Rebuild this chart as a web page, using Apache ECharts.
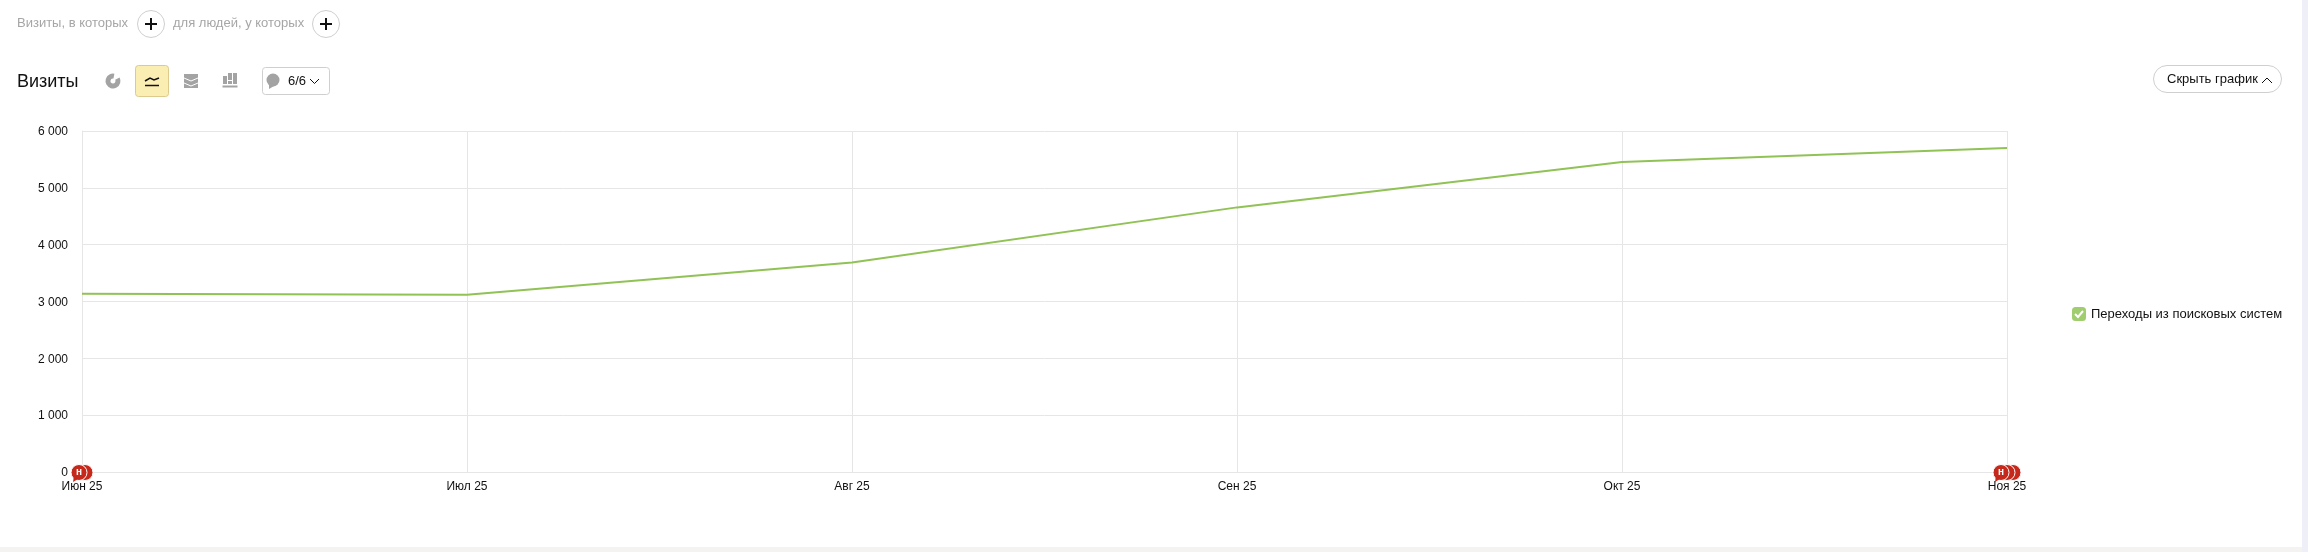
<!DOCTYPE html>
<html>
<head>
<meta charset="utf-8">
<title>Визиты</title>
<script src="https://cdn.jsdelivr.net/npm/echarts@6/dist/echarts.min.js"></script>
<style>
  html, body { margin: 0; padding: 0; background: #fff; }
  #chart { width: 2308px; height: 552px; }
</style>
</head>
<body>
<div id="chart"></div>
<script>
  const months = ['Июн 25', 'Июл 25', 'Авг 25', 'Сен 25', 'Окт 25', 'Ноя 25']
  const seriesName = 'Переходы из поисковых систем'
  const visits = [3137, 3120, 3688, 4656, 5454, 5700]
  // сколько заметок стоит на оси в каждом месяце
  const noteCounts = [2, 0, 0, 0, 0, 3]

  const font = '"Liberation Sans", Arial, sans-serif'
  const gridColor = '#e6e6e6'
  const iconGray = '#a3a3a3'

  function label(x, y, text, size, color) {
    return {
      type: 'text', x: x, y: y, silent: true,
      style: { text: text, font: size + 'px ' + font, fill: color, textVerticalAlign: 'middle' }
    }
  }
  function box(x, y, w, h, r, fill, stroke) {
    return {
      type: 'rect', silent: true,
      shape: { x: x, y: y, width: w, height: h, r: r },
      style: { fill: fill, stroke: stroke, lineWidth: 1 }
    }
  }
  function stroke(points, color, width) {
    return {
      type: 'polyline', silent: true,
      shape: { points: points },
      style: { fill: 'none', stroke: color, lineWidth: width }
    }
  }
  function plusButton(cx, cy) {
    return [
      { type: 'circle', silent: true, shape: { cx: cx, cy: cy, r: 13.5 }, style: { fill: '#fff', stroke: '#cfcfcf', lineWidth: 1 } },
      stroke([[cx - 6, cy], [cx + 6, cy]], '#111', 2),
      stroke([[cx, cy - 6], [cx, cy + 6]], '#111', 2)
    ]
  }

  const chrome = [
    // полосы страницы
    box(0, 547, 2302, 5, 0, '#f4f3f1', 'none'),
    box(2302, 0, 6, 552, 0, '#eff0f7', 'none'),
    // строка сегментации
    label(17, 23, 'Визиты, в которых', 13, '#a6a6a6'),
    ...plusButton(151, 24),
    label(173, 23, 'для людей, у которых', 13, '#a6a6a6'),
    ...plusButton(326, 24),
    // заголовок и переключатели
    label(17, 82, 'Визиты', 18, '#111'),
    {
      type: 'sector', silent: true,
      shape: { cx: 113, cy: 81, r: 7.5, r0: 2.5, startAngle: -0.5, endAngle: 4.9 },
      style: { fill: iconGray }
    },
    box(135.5, 65.5, 33, 31, 3, '#fbeeb3', '#dccb8d'),
    stroke([[145, 81], [150, 78], [154, 80], [159, 78]], '#111', 1.5),
    stroke([[145, 85.5], [159, 85.5]], '#111', 1.5),
    box(184, 74, 14, 14, 0, iconGray, 'none'),
    stroke([[184, 78], [191, 81], [198, 78]], '#fff', 1),
    stroke([[184, 83], [191, 86], [198, 83]], '#fff', 1),
    box(223, 76, 4, 8, 0, iconGray, 'none'),
    box(228, 73, 4, 7, 0, iconGray, 'none'),
    box(228, 81, 4, 3, 0, iconGray, 'none'),
    box(233, 73, 4, 11, 0, iconGray, 'none'),
    stroke([[222.5, 86.5], [237.5, 86.5]], iconGray, 2),
    box(262.5, 67.5, 67, 27, 3, '#fff', '#cfcfcf'),
    { type: 'circle', silent: true, shape: { cx: 273, cy: 80, r: 6.5 }, style: { fill: iconGray } },
    { type: 'polygon', silent: true, shape: { points: [[269, 84], [269, 89], [274, 86]] }, style: { fill: iconGray } },
    label(288, 81, '6/6', 13, '#111'),
    stroke([[310, 79], [314.5, 83.5], [319, 79]], '#111', 1),
    // кнопка справа
    box(2153.5, 65.5, 128, 27, 13.5, '#fff', '#cfcfcf'),
    label(2167, 79, 'Скрыть график', 13, '#111'),
    stroke([[2262, 83], [2267, 78], [2272, 83]], '#111', 1),
    // галочка в легенде
    stroke([[2075, 314], [2078, 317], [2083, 311]], '#fff', 2)
  ]

  function renderNotes(params, api) {
    const n = api.value(1)
    const p = api.coord([api.value(0), 0])
    const children = []
    // стопка заметок центрируется на отметке, первая рисуется сверху
    for (let i = n - 1; i >= 0; i--) {
      const cx = p[0] + (i - (n - 1) / 2) * 6
      children.push({
        type: 'circle',
        shape: { cx: cx, cy: p[1] + 0.5, r: 8 },
        style: { fill: '#c4291c', stroke: '#fff', lineWidth: 1 }
      })
    }
    const first = p[0] - (n - 1) * 3
    children.push({
      type: 'polygon',
      shape: { points: [[first - 5, p[1] + 4], [first - 6, p[1] + 10], [first - 1, p[1] + 7]] },
      style: { fill: '#c4291c' }
    })
    children.push({
      type: 'text', x: first, y: p[1] + 0.5,
      style: {
        text: 'н', fill: '#fff', font: 'bold 10px ' + font,
        textAlign: 'center', textVerticalAlign: 'middle'
      }
    })
    return { type: 'group', children: children }
  }

  const noteData = []
  noteCounts.forEach((c, i) => { if (c > 0) noteData.push([i, c]) })

  const myChart = echarts.init(document.getElementById('chart'))
  myChart.setOption({
    animation: false,
    backgroundColor: '#fff',
    textStyle: { fontFamily: font },
    grid: { left: 82, right: 301, top: 131, height: 341, containLabel: false },
    legend: {
      left: 2067, top: 302,
      icon: 'roundRect', itemWidth: 14, itemHeight: 14,
      data: [seriesName],
      selectedMode: false,
      itemStyle: { color: '#a0cd6d' },
      textStyle: { color: '#111', fontSize: 13, fontFamily: font }
    },
    xAxis: {
      type: 'category',
      data: months,
      boundaryGap: false,
      axisTick: { show: false },
      axisLine: { lineStyle: { color: gridColor } },
      axisLabel: { color: '#111', fontSize: 12, margin: 9, fontFamily: font, showMinLabel: true, showMaxLabel: true, interval: 0 },
      splitLine: { show: true, lineStyle: { color: gridColor } }
    },
    yAxis: {
      type: 'value',
      min: 0, max: 6000, interval: 1000,
      axisLine: { show: true, lineStyle: { color: gridColor } },
      axisTick: { show: false },
      axisLabel: {
        color: '#111', fontSize: 12, margin: 14, fontFamily: font,
        verticalAlign: 'top', lineHeight: 2,
        formatter: v => String(v).replace(/\B(?=(\d{3})+$)/g, ' ')
      },
      splitLine: { lineStyle: { color: gridColor } }
    },
    graphic: chrome.map(c => Object.assign({ z: 10 }, c)),
    series: [
      {
        name: seriesName,
        type: 'line',
        data: visits,
        showSymbol: false,
        silent: true,
        lineStyle: { color: '#90c255', width: 2 },
        itemStyle: { color: '#90c255' }
      },
      {
        type: 'custom',
        renderItem: renderNotes,
        data: noteData,
        encode: { x: 0, y: 1 },
        clip: false,
        silent: true,
        z: 5
      }
    ]
  })
</script>
</body>
</html>
